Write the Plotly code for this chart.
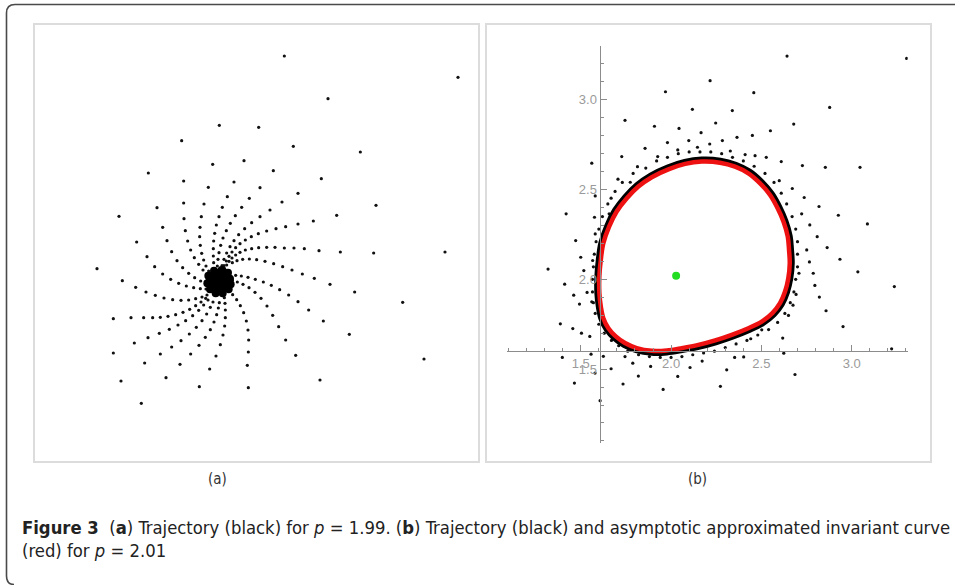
import plotly.graph_objects as go

W, H = 955, 585


def px(X):
    return X / W


def py(Y):
    return 1 - Y / H


# ---------------- Panel (a): trajectory for p = 1.99 (arbitrary units, y downward) -------------
arm_01 = [(1275, 696), (1061, 699), (961, 696), (897, 692), (853, 686), (822, 684), (793, 684), (765, 682),
          (740, 682), (716, 683), (695, 686), (676, 690), (660, 697), (647, 705), (636, 714), (627, 724),
          (620, 735), (614, 746)]
arm_02 = [(1068, 556), (950, 586), (880, 603), (834, 612), (797, 620), (768, 626), (740, 633), (715, 641),
          (694, 650), (676, 660), (660, 671), (647, 683), (636, 696), (627, 709), (619, 723), (612, 737),
          (606, 750)]
arm_03 = [(1314, 172), (1021, 396), (904, 476), (834, 520), (786, 546), (750, 570), (720, 590), (695, 608),
          (674, 626), (656, 644), (642, 662), (630, 680), (620, 699), (612, 718), (606, 737), (601, 753)]
arm_04 = [(924, 236), (820, 379), (760, 452), (720, 503), (688, 535), (665, 562), (646, 587), (631, 610),
          (619, 632), (609, 654), (602, 676), (597, 698), (594, 718), (592, 738), (591, 755)]
arm_05 = [(793, 108), (716, 322), (672, 422), (642, 486), (622, 530), (607, 562), (597, 590), (589, 615),
          (584, 640), (581, 663), (580, 686), (580, 708), (581, 728), (583, 746), (585, 760)]
arm_06 = [(598, 316), (578, 433), (565, 502), (552, 552), (544, 590), (540, 622), (539, 650), (541, 676),
          (545, 700), (551, 720), (558, 738), (566, 753), (574, 766)]
arm_07 = [(485, 362), (491, 483), (491, 549), (492, 596), (496, 632), (503, 663), (512, 690), (523, 713),
          (536, 733), (549, 750), (562, 763), (574, 773)]
arm_08 = [(385, 459), (411, 563), (428, 622), (441, 662), (455, 695), (471, 722), (488, 743), (506, 760),
          (524, 773), (542, 783), (558, 790)]
arm_09 = [(297, 589), (350, 666), (381, 710), (404, 740), (428, 762), (452, 778), (476, 790), (499, 798),
          (521, 803), (541, 806), (558, 807)]
arm_10 = [(231, 746), (307, 782), (347, 802), (378, 816), (406, 826), (432, 834), (458, 839), (483, 841),
          (506, 840), (527, 836), (546, 831), (561, 825)]
arm_11 = [(280, 896), (333, 893), (371, 893), (398, 893), (421, 892), (444, 889), (467, 884), (489, 877),
          (509, 868), (527, 857), (543, 846), (557, 835)]
arm_12 = [(280, 999), (343, 969), (384, 953), (418, 940), (448, 928), (474, 915), (497, 902), (518, 887),
          (536, 871), (551, 855), (564, 840)]
arm_13 = [(303, 1083), (374, 1029), (421, 1002), (455, 981), (483, 962), (508, 942), (529, 922), (546, 902),
          (560, 882), (571, 862), (579, 846)]
arm_14 = [(364, 1150), (438, 1073), (480, 1033), (512, 1002), (537, 976), (556, 952), (571, 929), (582, 906),
          (590, 884), (595, 864), (598, 848)]
arm_15 = [(538, 1100), (569, 1047), (588, 1008), (601, 974), (609, 945), (614, 918), (616, 893), (616, 870),
          (615, 850), (613, 833)]
arm_16 = [(685, 1103), (682, 1036), (685, 996), (686, 960), (684, 930), (679, 903), (671, 878), (661, 857),
          (650, 839), (638, 824), (627, 812)]
arm_17 = [(900, 1080), (827, 1006), (797, 960), (776, 920), (758, 886), (741, 858), (723, 835), (705, 817),
          (687, 803), (669, 793), (652, 786), (637, 781)]
arm_18 = [(1212, 1017), (988, 943), (910, 903), (866, 870), (834, 845), (806, 825), (779, 809), (754, 796),
          (730, 786), (706, 778), (684, 772), (664, 768), (647, 766)]
arm_19 = [(1148, 847), (1004, 816), (930, 793), (883, 775), (847, 762), (816, 750), (788, 740), (761, 731),
          (735, 724), (710, 719), (688, 717), (668, 718), (651, 722), (637, 728)]
core_a = [(595, 785), (610, 785), (595, 770), (580, 785), (595, 800), (606, 774), (584, 774), (584, 796),
          (606, 796), (622, 785), (614, 766), (595, 758), (576, 766), (568, 785), (576, 804), (595, 812),
          (614, 804), (630, 776), (624, 758), (605, 750), (582, 752), (565, 767), (562, 790), (570, 808),
          (587, 820), (608, 820), (626, 808), (632, 793)]

arms_a = [arm_01, arm_02, arm_03, arm_04, arm_05, arm_06, arm_07, arm_08, arm_09, arm_10,
          arm_11, arm_12, arm_13, arm_14, arm_15, arm_16, arm_17, arm_18, arm_19]

# ---------------- Panel (b): trajectory and invariant curve for p = 2.01 -------------
traj_b_x = [2.642, 3.304, 2.216, 1.969, 2.458, 2.118, 2.339, 2.878, 1.745, 1.908, 2.044, 2.247, 2.679, 2.550,
            2.166, 2.450, 2.365, 1.980, 2.098, 2.284, 1.856, 1.727, 2.037, 2.146, 2.214, 2.328, 2.410, 2.465,
            1.561, 1.814, 1.926, 2.727, 2.854, 3.046, 2.527, 2.610, 1.706, 1.774, 1.580, 1.668, 2.599, 2.671,
            2.737, 2.819, 2.926, 3.087, 1.419, 1.576, 1.657, 2.723, 2.768, 1.472, 1.580, 2.809, 2.864, 1.500,
            1.566, 2.751, 2.766, 2.935, 1.319, 1.517, 2.708, 2.787, 3.034, 1.411, 2.796, 3.236, 1.461, 1.535,
            2.692, 2.821, 1.493, 1.561, 2.858, 2.675, 1.387, 1.456, 2.650, 2.952, 1.504, 2.502, 2.618, 1.550,
            2.441, 1.398, 1.557, 2.624, 3.221, 1.668, 1.745, 1.819, 1.887, 2.037, 2.105, 2.172, 2.308, 2.352,
            2.402, 2.686, 1.465, 1.734, 1.956, 2.273, 1.607, 1.579, 1.788, 1.625]
traj_b_y = [3.244, 3.231, 3.107, 3.045, 3.040, 2.947, 2.940, 2.958, 2.886, 2.853, 2.841, 2.871, 2.865, 2.828,
            2.817, 2.802, 2.791, 2.762, 2.773, 2.773, 2.730, 2.684, 2.721, 2.736, 2.754, 2.715, 2.695, 2.689,
            2.647, 2.628, 2.684, 2.634, 2.624, 2.624, 2.680, 2.656, 2.558, 2.541, 2.465, 2.452, 2.550, 2.506,
            2.456, 2.406, 2.357, 2.309, 2.365, 2.346, 2.365, 2.365, 2.303, 2.216, 2.253, 2.238, 2.177, 2.123,
            2.105, 2.164, 2.097, 2.112, 2.057, 2.049, 2.034, 2.034, 2.042, 1.973, 1.966, 1.960, 1.912, 1.927,
            1.916, 1.901, 1.862, 1.875, 1.825, 1.856, 1.752, 1.726, 1.799, 1.737, 1.700, 1.719, 1.673, 1.682,
            1.669, 1.565, 1.583, 1.589, 1.613, 1.502, 1.570, 1.461, 1.515, 1.459, 1.509, 1.545, 1.496, 1.565,
            1.568, 1.470, 1.422, 1.417, 1.387, 1.404, 1.324, 1.478, 1.533, 1.571]

near_ring_x = [1.86, 1.92, 1.98, 2.04, 2.10, 2.16, 2.22, 2.28, 2.34, 2.40, 2.46, 2.52, 2.57,
               2.61, 2.64, 2.67, 2.69, 2.70, 2.70, 2.70, 2.69, 2.68, 2.66, 2.63,
               2.59, 2.54, 2.48, 2.42, 2.36, 2.30, 2.24, 2.18, 2.12, 2.06, 2.00, 1.94, 1.88, 1.82, 1.76, 1.71,
               1.67, 1.63, 1.60, 1.58, 1.57, 1.565, 1.565, 1.57, 1.575, 1.585, 1.60, 1.62, 1.65, 1.69, 1.73, 1.79]
near_ring_y = [2.62, 2.66, 2.68, 2.70, 2.71, 2.71, 2.71, 2.70, 2.68, 2.66, 2.63, 2.59, 2.54,
               2.48, 2.42, 2.35, 2.28, 2.21, 2.14, 2.07, 2.00, 1.93, 1.87, 1.81,
               1.76, 1.72, 1.69, 1.66, 1.64, 1.62, 1.60, 1.59, 1.58, 1.57, 1.565, 1.565, 1.57, 1.58, 1.60, 1.63,
               1.66, 1.70, 1.75, 1.81, 1.87, 1.93, 2.00, 2.07, 2.14, 2.21, 2.28, 2.35, 2.42, 2.49, 2.54, 2.59]

curve_x = [2.170, 2.078, 1.985, 1.893, 1.819, 1.755, 1.699, 1.657, 1.625, 1.611, 1.603, 1.603, 1.611, 1.625,
           1.653, 1.694, 1.745, 1.810, 1.893, 1.976, 2.059, 2.151, 2.244, 2.336, 2.428, 2.502, 2.561, 2.603,
           2.631, 2.649, 2.657, 2.653, 2.646, 2.622, 2.590, 2.548, 2.493, 2.428, 2.354, 2.271, 2.170]
curve_y = [2.656, 2.643, 2.613, 2.569, 2.517, 2.452, 2.378, 2.294, 2.201, 2.109, 2.016, 1.923, 1.849, 1.784,
           1.728, 1.682, 1.645, 1.617, 1.602, 1.604, 1.617, 1.635, 1.660, 1.691, 1.728, 1.765, 1.812, 1.867,
           1.932, 2.006, 2.090, 2.164, 2.238, 2.322, 2.396, 2.470, 2.535, 2.591, 2.628, 2.650, 2.656]

fixed_point = (2.028, 2.020)

tick_vals = [1.5, 2.0, 2.5, 3.0]

# ---------------- figure -------------
fig = go.Figure()

for arm in arms_a:
    fig.add_trace(go.Scatter(x=[p[0] for p in arm], y=[p[1] for p in arm], mode="markers",
                             marker=dict(size=3.2, color="#111111"), xaxis="x", yaxis="y",
                             showlegend=False, hoverinfo="skip"))
fig.add_trace(go.Scatter(x=[p[0] for p in core_a], y=[p[1] for p in core_a], mode="markers",
                         marker=dict(size=8, color="#000000"), xaxis="x", yaxis="y",
                         showlegend=False, hoverinfo="skip"))

fig.add_trace(go.Scatter(x=traj_b_x, y=traj_b_y, mode="markers",
                         marker=dict(size=3.2, color="#111111"), xaxis="x2", yaxis="y2",
                         showlegend=False, hoverinfo="skip"))
fig.add_trace(go.Scatter(x=near_ring_x, y=near_ring_y, mode="markers",
                         marker=dict(size=3.2, color="#111111"), xaxis="x2", yaxis="y2",
                         showlegend=False, hoverinfo="skip"))
fig.add_trace(go.Scatter(x=curve_x, y=curve_y, mode="lines", line=dict(color="#000000", width=10, shape="spline"),
                         xaxis="x2", yaxis="y2", showlegend=False, hoverinfo="skip"))
fig.add_trace(go.Scatter(x=curve_x, y=curve_y, mode="lines", fill="toself", fillcolor="white",
                         line=dict(width=0, shape="spline"),
                         xaxis="x2", yaxis="y2", showlegend=False, hoverinfo="skip"))
fig.add_trace(go.Scatter(x=curve_x, y=curve_y, mode="lines", line=dict(color="#ee1111", width=4.5, shape="spline"),
                         xaxis="x2", yaxis="y2", showlegend=False, hoverinfo="skip"))
fig.add_trace(go.Scatter(x=[fixed_point[0]], y=[fixed_point[1]], mode="markers",
                         marker=dict(size=8, color="#22dd22"), xaxis="x2", yaxis="y2",
                         showlegend=False, hoverinfo="skip"))

axis_gray = "#8c8c8c"
label_gray = "#9a9a9a"
tick_font = dict(family="Liberation Sans, Arial, sans-serif", size=13, color=label_gray)

fig.update_layout(
    width=W, height=H, margin=dict(l=0, r=0, t=0, b=0),
    paper_bgcolor="white", plot_bgcolor="rgba(0,0,0,0)",
    xaxis=dict(domain=[px(34), px(479)], range=[42, 1377], visible=False, anchor="y"),
    yaxis=dict(domain=[py(462), py(24)], range=[1326, 12], visible=False, anchor="x"),
    xaxis2=dict(domain=[px(506.7), px(907.7)], range=[1.09, 3.31], anchor="free", position=py(351.3),
                showline=True, linecolor=axis_gray, linewidth=1, showgrid=False, zeroline=False,
                tickmode="array", tickvals=tick_vals, tickformat=".1f", ticks="inside", ticklen=6,
                tickcolor=axis_gray, tickfont=tick_font,
                minor=dict(dtick=0.1, tick0=1.5, ticks="inside", ticklen=3, tickcolor=axis_gray, showgrid=False)),
    yaxis2=dict(domain=[py(442.7), py(46)], range=[1.09, 3.30], anchor="free", position=px(599.5),
                showline=True, linecolor=axis_gray, linewidth=1, showgrid=False, zeroline=False,
                tickmode="array", tickvals=tick_vals, tickformat=".1f", ticks="inside", ticklen=6,
                tickcolor=axis_gray, tickfont=tick_font,
                minor=dict(dtick=0.1, tick0=1.5, ticks="inside", ticklen=3, tickcolor=axis_gray, showgrid=False)),
)

# outer rounded frame
frame_path = (f"M {px(6.5)},{py(576)} L {px(6.5)},{py(13)} Q {px(6.5)},{py(4.5)} {px(15)},{py(4.5)} "
              f"L {px(956)},{py(4.5)}")
fig.add_shape(type="path", xref="paper", yref="paper", path=frame_path,
              line=dict(color="#4a4a4a", width=1.6))
fig.add_shape(type="path", xref="paper", yref="paper",
              path=f"M {px(6.5)},{py(576)} Q {px(6.5)},{py(584.5)} {px(14)},{py(584.5)}",
              line=dict(color="#4a4a4a", width=1.6))

# panel frames
for x0, x1 in [(34, 479), (486, 931)]:
    fig.add_shape(type="rect", xref="paper", yref="paper", x0=px(x0), x1=px(x1), y0=py(462), y1=py(24),
                  line=dict(color="#dcdcdc", width=2), layer="below")

cap_font = "Liberation Sans Narrow, DejaVu Sans Condensed, Roboto Condensed, DejaVu Sans, sans-serif"
fig.add_annotation(x=px(217), y=py(479), xref="paper", yref="paper", xanchor="center", yanchor="middle",
                   text="(a)", showarrow=False, font=dict(family=cap_font, size=15, color="#333333"))
fig.add_annotation(x=px(697), y=py(479), xref="paper", yref="paper", xanchor="center", yanchor="middle",
                   text="(b)", showarrow=False, font=dict(family=cap_font, size=15, color="#333333"))
fig.add_annotation(x=px(20), y=py(527), xref="paper", yref="paper", xanchor="left", yanchor="middle",
                   text="<b>Figure 3</b>  (<b>a</b>) Trajectory (black) for <i>p</i> = 1.99. (<b>b</b>) Trajectory "
                        "(black) and asymptotic approximated invariant curve",
                   showarrow=False, font=dict(family=cap_font, size=18.3, color="#222222"))
fig.add_annotation(x=px(20), y=py(550), xref="paper", yref="paper", xanchor="left", yanchor="middle",
                   text="(red) for <i>p</i> = 2.01",
                   showarrow=False, font=dict(family=cap_font, size=18.3, color="#222222"))

fig.write_html("out.html")
